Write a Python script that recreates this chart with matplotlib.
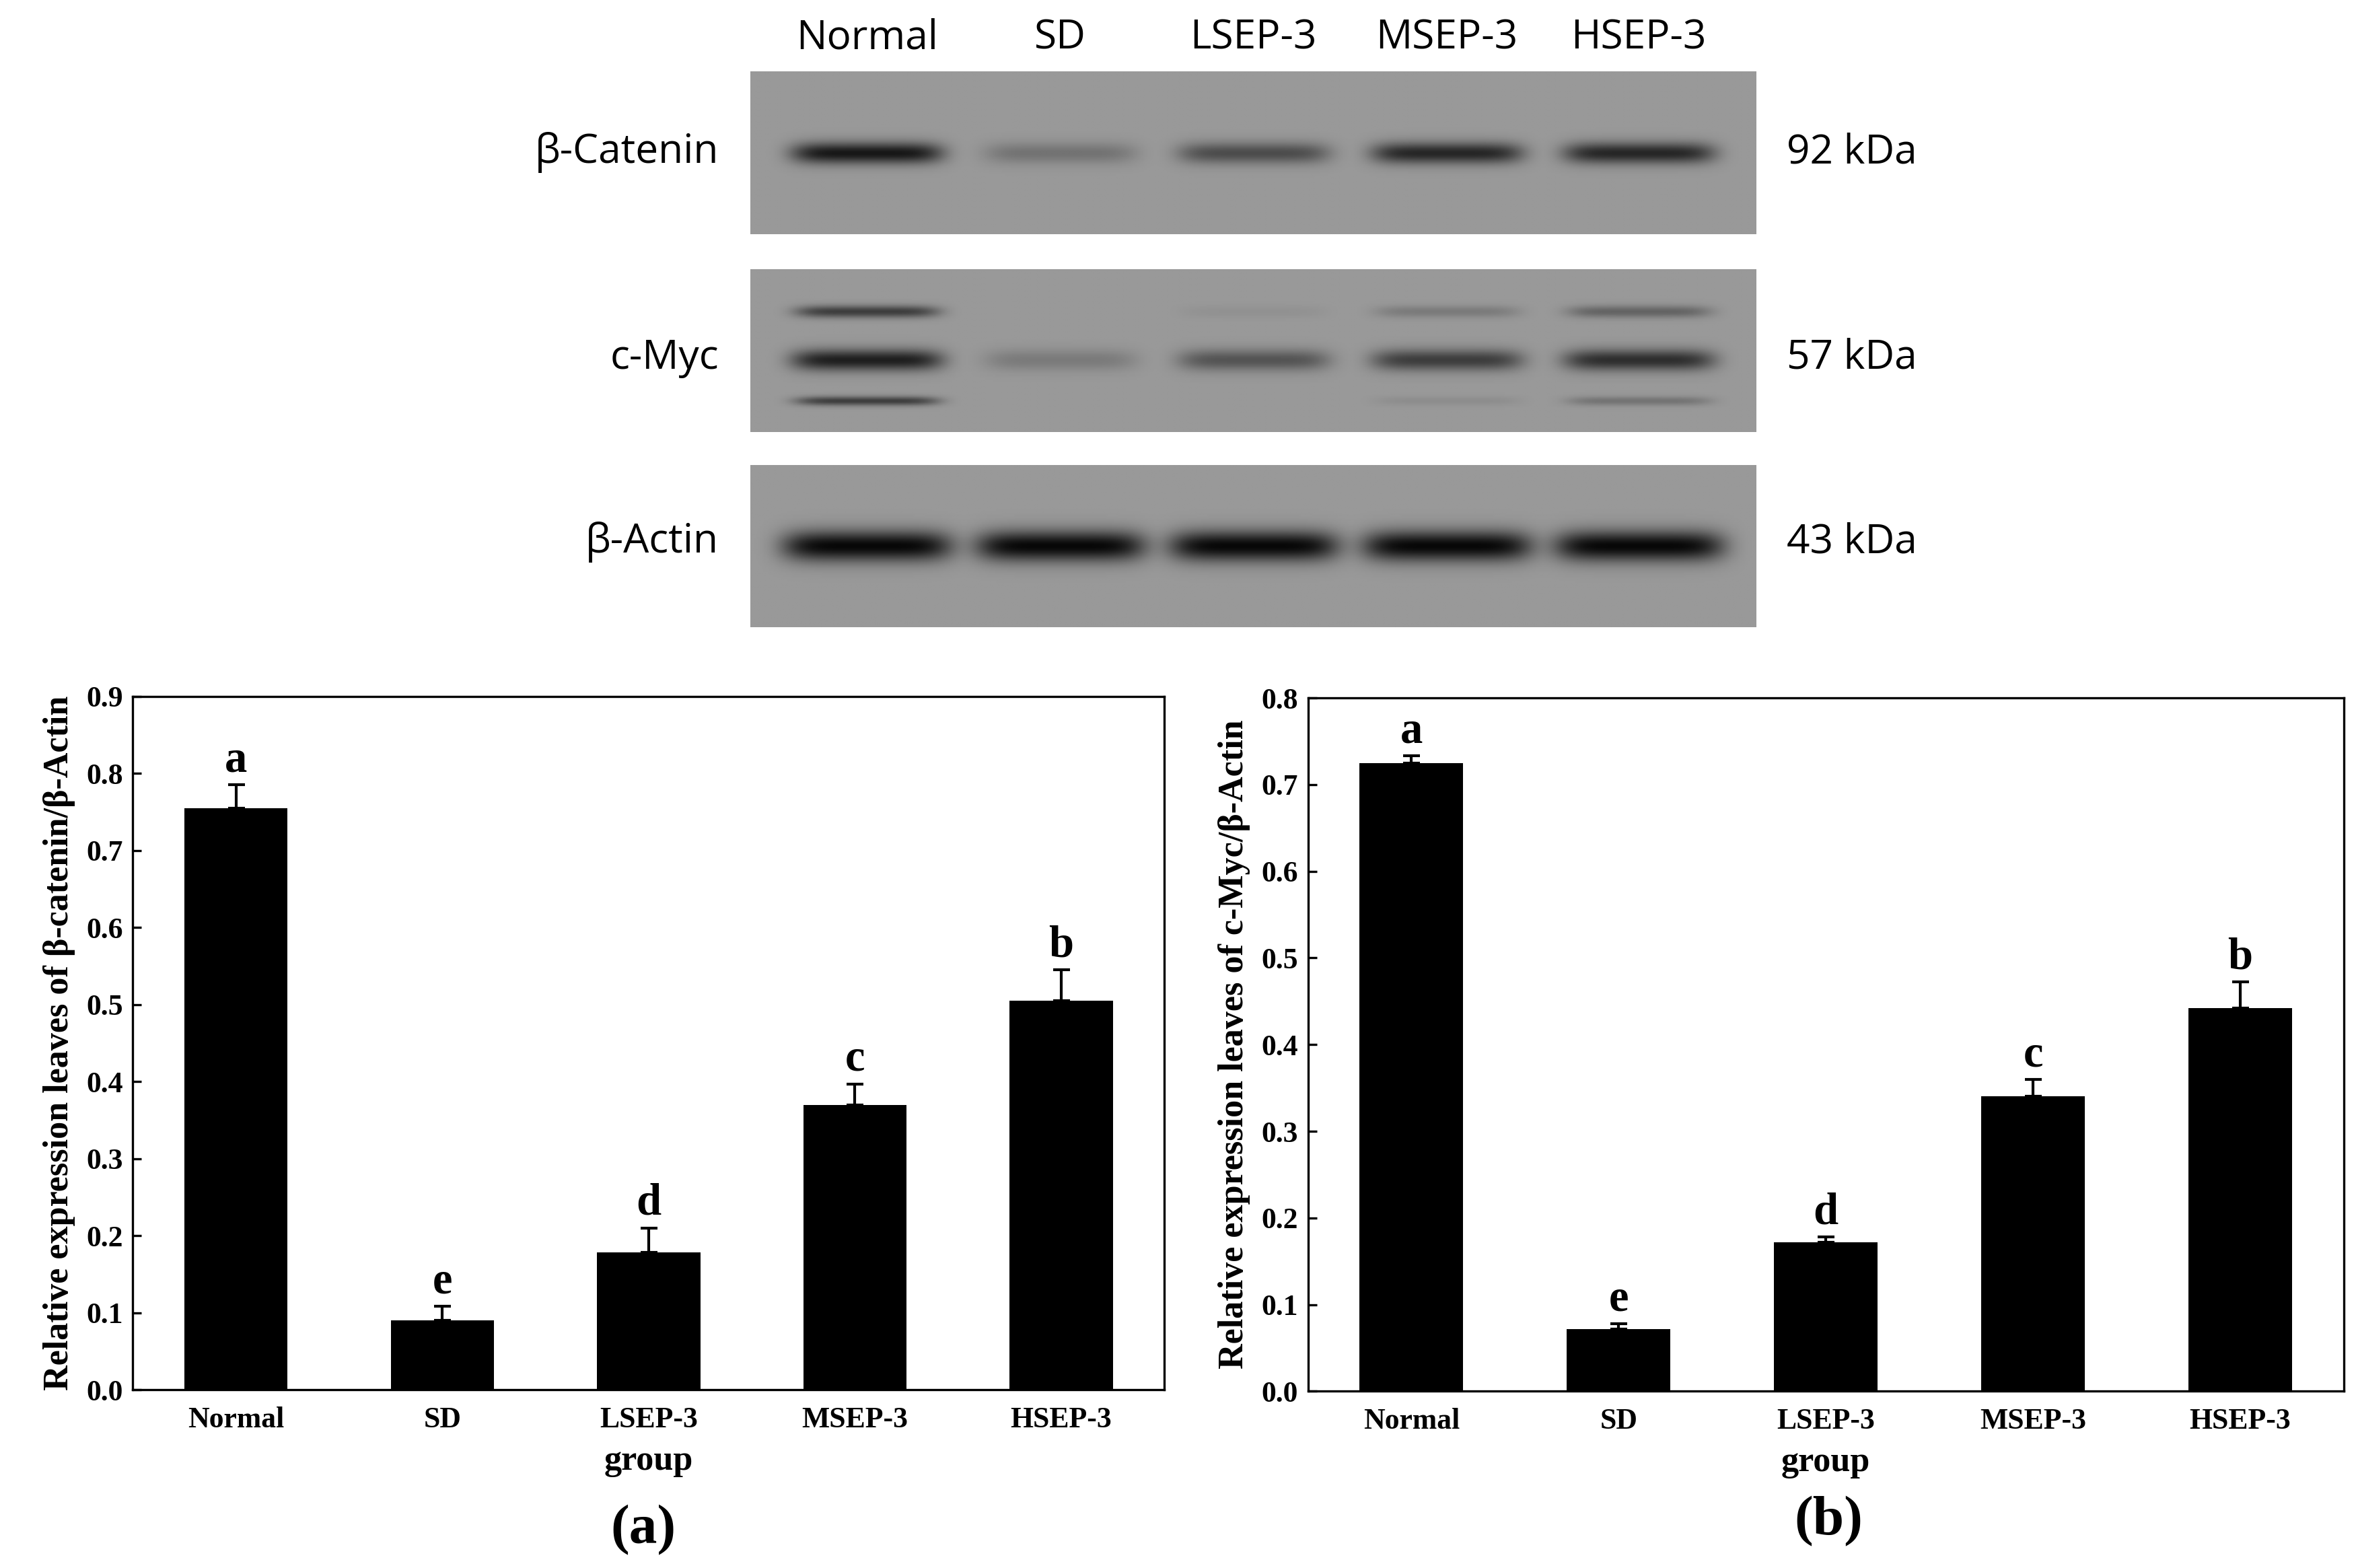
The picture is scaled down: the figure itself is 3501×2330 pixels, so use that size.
import numpy as np
import matplotlib
matplotlib.use("Agg")
import matplotlib.pyplot as plt

groups = ["Normal", "SD", "LSEP-3", "MSEP-3", "HSEP-3"]
cat_vals = [0.755, 0.090, 0.178, 0.370, 0.505]
cat_err = [0.030, 0.018, 0.032, 0.027, 0.040]
cat_letters = ["a", "e", "d", "c", "b"]
myc_vals = [0.725, 0.072, 0.172, 0.340, 0.442]
myc_err = [0.008, 0.006, 0.006, 0.020, 0.030]
myc_letters = ["a", "e", "d", "c", "b"]
blot_names = ["β-Catenin", "c-Myc", "β-Actin"]
blot_kda = ["92 kDa", "57 kDa", "43 kDa"]
band_cat = [0.85, 0.25, 0.5, 0.75, 0.75]
band_myc_main = [0.8, 0.2, 0.45, 0.6, 0.7]
band_myc_up = [0.6, 0.0, 0.05, 0.2, 0.35]
band_myc_low = [0.6, 0.0, 0.0, 0.08, 0.25]
band_act = [0.95, 0.95, 0.95, 0.95, 0.95]

W, H = 1560.0, 1038.0
fig = plt.figure(figsize=(3501/300, 2330/300), dpi=300)

def fa(x0, y0, x1, y1):
    return fig.add_axes([x0/W, 1-y1/H, (x1-x0)/W, (y1-y0)/H])

lane_cx = np.array([574, 702, 830, 958, 1085]) - 497
sans = ["Open Sans", "DejaVu Sans"]

def strip(y0, y1, bands):
    ax = fa(497, y0, 1163, y1)
    h = int(y1 - y0); w = 666
    xx, yy = np.meshgrid(np.arange(w), np.arange(h))
    img = np.full((h, w), 0.60)
    for rows, inten, bw, bh in bands:
        for cx, it in zip(lane_cx, inten):
            g = np.exp(-((xx-cx)/(bw/2))**6) * np.exp(-((yy-rows)/bh)**2)
            img -= it*0.6*g
    ax.imshow(np.clip(img, 0, 1), cmap="gray", vmin=0, vmax=1, aspect="auto")
    ax.set_axis_off()
    return ax

strip(47, 155, [(54, band_cat, 100, 7)])
strip(178, 286, [(28, band_myc_up, 95, 4), (60, band_myc_main, 100, 7), (87, band_myc_low, 95, 3)])
strip(308, 415, [(53, band_act, 112, 10)])
for name, kda, yc in zip(blot_names, blot_kda, [101, 237, 359]):
    fig.text(476/W, 1-yc/H, name, ha="right", va="center", fontsize=14.5, family=sans)
    fig.text(1183/W, 1-yc/H, kda, ha="left", va="center", fontsize=14.5, family=sans)
for g, cx in zip(groups, lane_cx):
    fig.text((cx+497)/W, 1-25/H, g, ha="center", va="center", fontsize=14.5, family=sans)

serif = "Liberation Serif"
def chart(box, vals, errs, letters, ymax, ylabel, tag, tagpos):
    ax = fa(*box)
    x = np.arange(len(groups))
    ax.bar(x, vals, width=0.5, color="black", zorder=2)
    ax.errorbar(x, vals, yerr=[np.zeros(len(errs)), errs], fmt="none", ecolor="black",
                elinewidth=1, capsize=3, capthick=1)
    for xi, v, e, l in zip(x, vals, errs, letters):
        ax.text(xi, v+e+0.005*ymax/0.9, l, ha="center", va="bottom", fontsize=16,
                fontweight="bold", family=serif)
    ax.set_xlim(-0.5, 4.5)
    ax.set_ylim(0, ymax)
    ticks = np.arange(0, ymax+0.001, 0.1)
    ax.set_yticks(ticks)
    ax.set_yticklabels([f"{t:.1f}" for t in ticks])
    ax.set_xticks(x)
    ax.set_xticklabels(groups)
    ax.tick_params(direction="in", length=3)
    ax.tick_params(axis="x", length=0, pad=6)
    for lab in ax.get_xticklabels() + ax.get_yticklabels():
        lab.set_fontfamily(serif); lab.set_fontweight("bold"); lab.set_fontsize(10.5)
    ax.set_xlabel("group", fontfamily=serif, fontweight="bold", fontsize=12.5, labelpad=4)
    ax.set_ylabel(ylabel, fontfamily=serif, fontweight="bold", fontsize=12.5, labelpad=4)
    fig.text(tagpos[0]/W, 1-tagpos[1]/H, tag, ha="center", va="center", fontsize=20,
             fontweight="bold", family=serif)
    return ax

chart((88, 461, 771, 920), cat_vals, cat_err, cat_letters, 0.9,
      "Relative expression leaves of β-catenin/β-Actin", "(a)", (426, 1013))
chart((866, 462, 1552, 921), myc_vals, myc_err, myc_letters, 0.8,
      "Relative expression leaves of c-Myc/β-Actin", "(b)", (1211, 1007))

fig.savefig("out.png", dpi=300)
